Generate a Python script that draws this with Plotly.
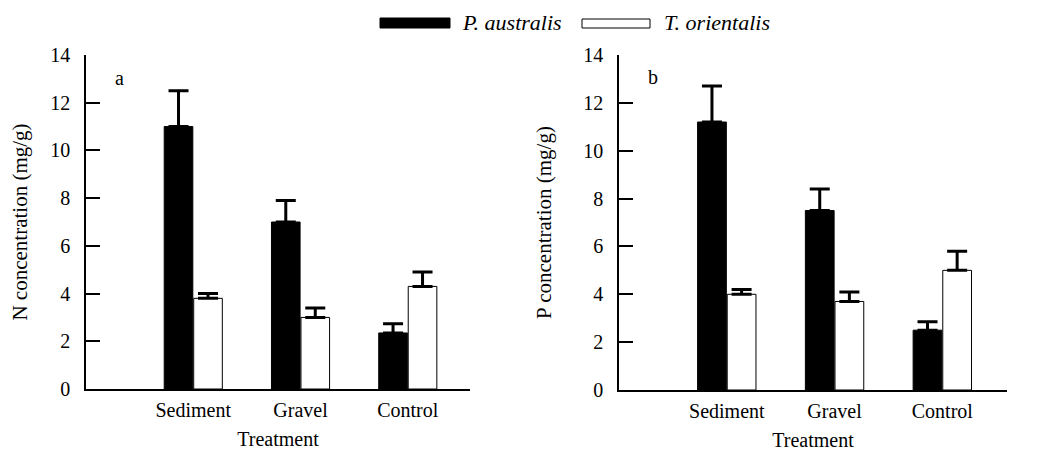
import plotly.graph_objects as go

# ---- data ----
categories = ["Sediment", "Gravel", "Control"]
species = ["P. australis", "T. orientalis"]

n_australis = [11.0, 7.0, 2.35]
n_australis_err = [1.5, 0.9, 0.38]
n_orientalis = [3.8, 3.0, 4.3]
n_orientalis_err = [0.2, 0.4, 0.6]

p_australis = [11.2, 7.5, 2.5]
p_australis_err = [1.5, 0.9, 0.35]
p_orientalis = [4.0, 3.7, 5.0]
p_orientalis_err = [0.2, 0.4, 0.8]

yticks = [0, 2, 4, 6, 8, 10, 12, 14]

FONT = "Liberation Serif"
fills = ["black", "white"]

W = 1039.0
H = 450.0
OFF = 8  # page body offset


def fx(px):
    return (px - OFF) / W


def fy(py):
    return 1 - (py - OFF) / H


def err(vals):
    return dict(type="data", array=vals, arrayminus=[0] * len(vals), symmetric=False,
                color="black", thickness=3, width=10)


fig = go.Figure()
panels = [
    ("x", "y", [n_australis, n_orientalis], [n_australis_err, n_orientalis_err]),
    ("x2", "y2", [p_australis, p_orientalis], [p_australis_err, p_orientalis_err]),
]
for xa, ya, vals, errs in panels:
    for i in range(2):
        fig.add_trace(go.Bar(
            x=categories, y=vals[i], name=species[i], xaxis=xa, yaxis=ya,
            marker=dict(color=fills[i], line=dict(color="black", width=1)),
            error_y=err(errs[i]), showlegend=False,
        ))

axis_common = dict(showline=True, linecolor="black", linewidth=1.5, showgrid=False,
                   zeroline=False, automargin=False,
                   tickfont=dict(family=FONT, size=20, color="black"))
xcommon = dict(axis_common, ticks="", range=[-1.0, 2.58], type="category",
               ticklabelstandoff=2,
               title=dict(text="Treatment", font=dict(family=FONT, size=20, color="black"), standoff=12))
ycommon = dict(axis_common, range=[0, 14], tickvals=yticks, ticks="inside", ticklen=14,
               tickwidth=1.5, tickcolor="black", ticklabelstandoff=10,
               title=dict(font=dict(family=FONT, size=21, color="black"), standoff=26))

fig.update_layout(
    width=1039, height=450,
    margin=dict(l=0, r=0, t=0, b=0),
    paper_bgcolor="white", plot_bgcolor="white",
    barmode="group", bargap=0.45, bargroupgap=0.03,
    font=dict(family=FONT, size=20, color="black"),
    xaxis=dict(xcommon, domain=[fx(86), fx(470)], anchor="y"),
    xaxis2=dict(xcommon, domain=[fx(619), fx(1007)], anchor="y2", range=[-1.0, 2.6]),
    yaxis=dict(ycommon, domain=[fy(389), fy(55)], anchor="x",
               title=dict(ycommon["title"], text="N concentration (mg/g)")),
    yaxis2=dict(ycommon, domain=[fy(390), fy(55)], anchor="x2",
                title=dict(ycommon["title"], text="P concentration (mg/g)")),
)

# panel letters
fig.add_annotation(text="a", x=fx(113), y=fy(78), xref="paper", yref="paper", showarrow=False,
                   font=dict(family=FONT, size=20), xanchor="left", yanchor="middle")
fig.add_annotation(text="b", x=fx(646), y=fy(77), xref="paper", yref="paper", showarrow=False,
                   font=dict(family=FONT, size=20), xanchor="left", yanchor="middle")

# custom legend (long rectangular keys)
legend_items = [(380, 450, 18, 28, "black", 460, species[0]),
                (582, 650, 19, 28, "white", 662, species[1])]
for x0, x1, y0, y1, col, tx, label in legend_items:
    fig.add_shape(type="rect", xref="paper", yref="paper",
                  x0=fx(x0), x1=fx(x1), y0=fy(y1), y1=fy(y0),
                  fillcolor=col, line=dict(color="black", width=1))
    fig.add_annotation(text="<i>%s</i>" % label, x=fx(tx), y=fy(23), xref="paper", yref="paper",
                       showarrow=False, xanchor="left", yanchor="middle",
                       font=dict(family=FONT, size=22, color="black"))

fig.write_html("out.html")
